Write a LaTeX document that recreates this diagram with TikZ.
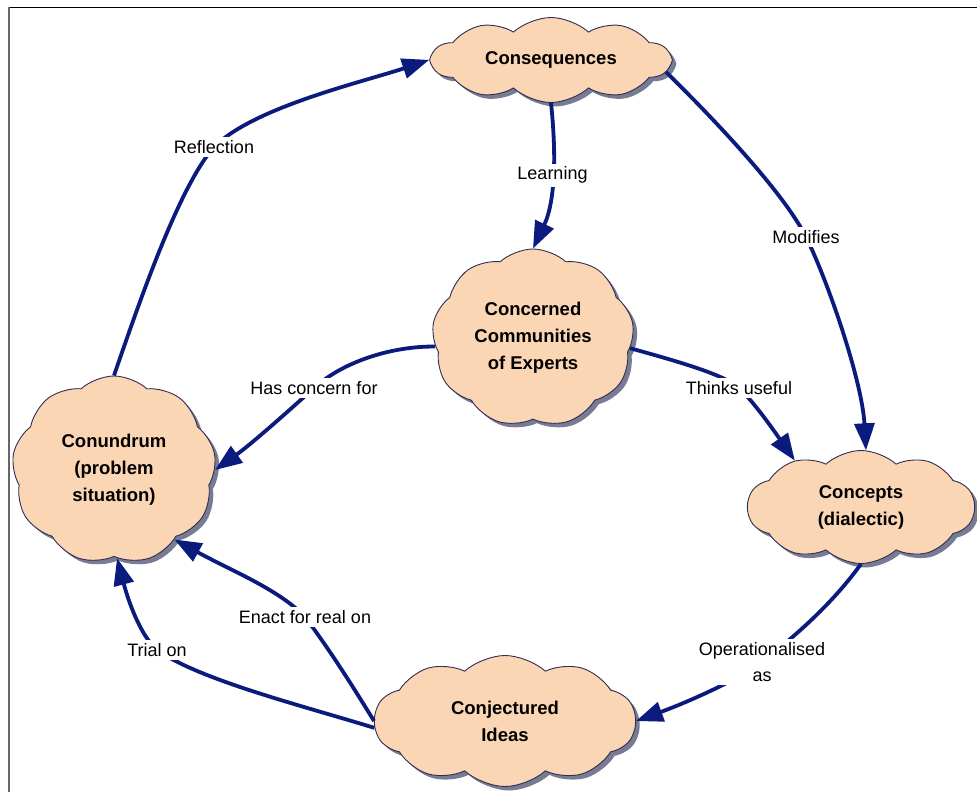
\documentclass[tikz,border=0pt]{standalone}
\usepackage{fontspec}
\setmainfont{Liberation Sans}
\usetikzlibrary{shapes.symbols,shadows,arrows.meta}
\definecolor{cloudfill}{RGB}{251,214,180}
\definecolor{cloudline}{RGB}{48,46,80}
\definecolor{linkblue}{RGB}{10,26,125}
\definecolor{shadowgray}{RGB}{120,123,148}
\begin{document}
\begin{tikzpicture}[x=1pt,y=-1pt,
  concept/.style={cloud, cloud puffs=#1, cloud puff arc=85, cloud ignores aspect,
    draw=cloudline, line width=0.9pt, fill=cloudfill, align=center, inner sep=0pt,
    font=\fontsize{18.5}{27}\selectfont\bfseries,
    drop shadow={shadow xshift=4pt, shadow yshift=-4pt, fill=shadowgray, opacity=1}},
  link/.style={draw=linkblue, line width=3.8pt, -{Triangle[length=27pt,width=20pt]}},
  lbl/.style={fill=white, inner sep=3pt, align=center, text=black,
    font=\fontsize{18}{26}\selectfont}
]
\useasboundingbox (0,0) rectangle (977,792);
\fill[white] (0,0) rectangle (977,792);
% window frame
\draw[black, line width=1.2pt] (977,7.5) -- (8.5,7.5);
\draw[black!60, line width=2pt] (8.5,7.5) -- (8.5,792);

% concepts
\node[concept=10, minimum width=238pt, minimum height=85pt]  (cq) at (551,60)  {Consequences};
\node[concept=9,  minimum width=202pt, minimum height=178pt] (cc) at (533,338) {Concerned\\Communities\\of Experts};
\node[concept=9,  minimum width=204pt, minimum height=188pt] (cn) at (114,470) {Conundrum\\(problem\\situation)};
\node[concept=10, minimum width=227pt, minimum height=113pt] (cp) at (861,507) {Concepts\\(dialectic)};
\node[concept=10, minimum width=261pt, minimum height=131pt] (cj) at (505,721) {Conjectured\\Ideas};

% links
\draw[link] (cn.north) .. controls (140,300) and (179,187) .. (214,147) node[lbl]{Reflection}
  .. controls (254,107) and (363,82) .. (cq.west);
\draw[link] (cq.south) .. controls (556,150) and (556,200) .. (cc.north) node[lbl,pos=0.5]{Learning};
\draw[link] (cq.-6) .. controls (720,125) and (785,195) .. (806,237) node[lbl]{Modifies}
  .. controls (827,279) and (862,380) .. (cp.85);
\draw[link] (cc.185) .. controls (395,346) and (345,360) .. (314,388) node[lbl]{Has concern for}
  .. controls (283,416) and (250,445) .. (cn.0);
\draw[link] (cc.-6) .. controls (680,362) and (725,375) .. (739,388) node[lbl]{Thinks useful}
  .. controls (752,400) and (770,425) .. (cp.145);
\draw[link] (cp.south) .. controls (830,607) and (790,640) .. (762,662) node[lbl]{Operationalised\\as}
  .. controls (735,682) and (680,705) .. (cj.east);
\draw[link] (cj.west) .. controls (355,690) and (330,650) .. (305,617) node[lbl]{Enact for real on}
  .. controls (280,590) and (230,570) .. (cn.-49);
\draw[link] (cj.183) .. controls (300,705) and (200,680) .. (157,650) node[lbl]{Trial on}
  .. controls (140,635) and (128,600) .. (cn.-88);
\end{tikzpicture}
\end{document}
